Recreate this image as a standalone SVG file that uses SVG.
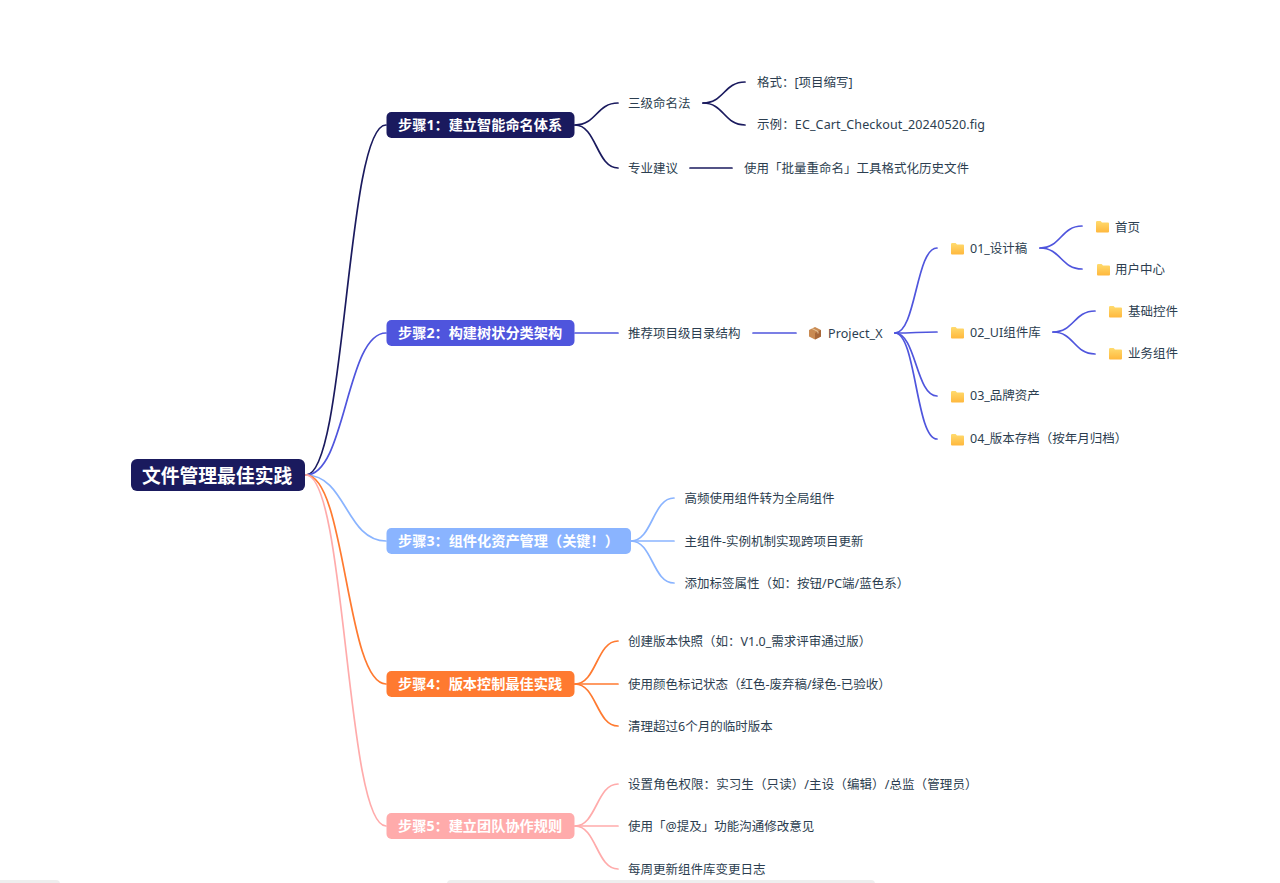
<svg xmlns="http://www.w3.org/2000/svg" width="1280" height="883" viewBox="0 0 1280 883">
<style>
text{font-family:"Noto Sans","Noto Sans CJK SC",sans-serif;white-space:pre}
.leaf{font-size:12.5px;fill:#2c3e50}
.step{font-size:14.2px;font-weight:700;fill:#fff}
.root{font-size:18.8px;font-weight:700;fill:#fff}
.c{fill:none;stroke-width:1.7;stroke-linecap:round}
.c1{stroke:#1a1a5e}.c2{stroke:#4f55dd}.c3{stroke:#8ab4ff}.c4{stroke:#ff7a30}.c5{stroke:#ffabab}
</style>
<defs>
<linearGradient id="fg" x1="0" y1="0" x2="0" y2="1"><stop offset="0" stop-color="#ffdb6e"/><stop offset="1" stop-color="#ffb83d"/></linearGradient>
<g id="folder"><path d="M0 1.2Q0 0 1.2 0H4.6L6 1.6H12Q13 1.6 13 2.6V10.4Q13 11.4 12 11.4H1Q0 11.4 0 10.4Z" fill="url(#fg)"/></g>
</defs>
<rect x="-5" y="880" width="65" height="8" rx="4" fill="#eeeeee"/>
<rect x="447" y="880" width="428" height="8" rx="4" fill="#eeeeee"/>
<g id="connectors">
<path class="c c1" d="M306 475C346 475 346 125 386 125"/>
<path class="c c2" d="M306 475C346 475 346 333 386 333"/>
<path class="c c3" d="M306 475C346 475 346 541 386 541"/>
<path class="c c4" d="M306 475C346 475 346 684 386 684"/>
<path class="c c5" d="M306 475C346 475 346 826 386 826"/>
<path class="c c1" d="M575 125C596.500 125 596.500 103 618 103"/>
<path class="c c1" d="M575 125C596.500 125 596.500 168 618 168"/>
<path class="c c1" d="M703 103C724 103 724 82 745 82"/>
<path class="c c1" d="M703 103C724 103 724 125 745 125"/>
<path class="c c1" d="M690 168H732"/>
<path class="c c2" d="M575 333H618"/>
<path class="c c2" d="M753 333H796"/>
<path class="c c2" d="M895 333C916 333 916 248 937 248"/>
<path class="c c2" d="M895 333C916 333 916 332 937 332"/>
<path class="c c2" d="M895 333C916 333 916 396 937 396"/>
<path class="c c2" d="M895 333C916 333 916 439 937 439"/>
<path class="c c2" d="M1040 248C1061 248 1061 226 1082 226"/>
<path class="c c2" d="M1040 248C1061 248 1061 269 1082 269"/>
<path class="c c2" d="M1053 332C1074 332 1074 311 1095 311"/>
<path class="c c2" d="M1053 332C1074 332 1074 354 1095 354"/>
<path class="c c3" d="M631 541C652.500 541 652.500 498 674 498"/>
<path class="c c3" d="M631 541H674"/>
<path class="c c3" d="M631 541C652.500 541 652.500 583 674 583"/>
<path class="c c4" d="M575 684C596.500 684 596.500 641 618 641"/>
<path class="c c4" d="M575 684H618"/>
<path class="c c4" d="M575 684C596.500 684 596.500 726 618 726"/>
<path class="c c5" d="M575 826C596.500 826 596.500 784 618 784"/>
<path class="c c5" d="M575 826H618"/>
<path class="c c5" d="M575 826C596.500 826 596.500 869 618 869"/>
</g>
<g id="root"><rect x="131" y="459" width="174" height="32" rx="6" fill="#1a1a5e"/><text class="root" x="142" y="483">文件管理最佳实践</text></g>
<g id="step1"><rect x="386.500" y="112" width="188" height="26" rx="5" fill="#1a1a5e"/><text class="step" x="398" y="130">步骤1&#xFF1A;建立智能命名体系</text></g>
<g id="step2"><rect x="386.500" y="320" width="188" height="26" rx="5" fill="#4f55dd"/><text class="step" x="398" y="338">步骤2&#xFF1A;构建树状分类架构</text></g>
<g id="step3"><rect x="386.500" y="528" width="244.500" height="26" rx="5" fill="#8ab4ff"/><text class="step" x="398" y="546">步骤3&#xFF1A;组件化资产管理&#xFF08;关键&#xFF01;&#xFF09;</text></g>
<g id="step4"><rect x="386.500" y="671" width="188" height="26" rx="5" fill="#ff7a30"/><text class="step" x="398" y="689">步骤4&#xFF1A;版本控制最佳实践</text></g>
<g id="step5"><rect x="386.500" y="813" width="188" height="26" rx="5" fill="#ffabab"/><text class="step" x="398" y="831">步骤5&#xFF1A;建立团队协作规则</text></g>
<g id="n1"><text class="leaf" x="628" y="108">三级命名法</text></g>
<g id="n2"><text class="leaf" x="757" y="87">格式&#xFF1A;[项目缩写]</text></g>
<g id="n3"><text class="leaf" x="757" y="129" textLength="228">示例&#xFF1A;EC_Cart_Checkout_20240520.fig</text></g>
<g id="n4"><text class="leaf" x="628" y="173">专业建议</text></g>
<g id="n5"><text class="leaf" x="744" y="173">使用「批量重命名」工具格式化历史文件</text></g>
<g id="n6"><text class="leaf" x="628" y="338">推荐项目级目录结构</text></g>
<g id="n7"><path d="M815 327L821 330V336.500L815 339.500L809 336.500V330Z" fill="#c98a52"/><path d="M815 333L821 330V336.500L815 339.500Z" fill="#a8683a"/><path d="M812 328.500L818 331.500V333.500" fill="none" stroke="#e8c9a0"/><text class="leaf" x="828" y="338" textLength="54.500">Project_X</text></g>
<g id="n8"><use href="#folder" x="951" y="243"/><text class="leaf" x="970" y="253">01_设计稿</text></g>
<g id="n9"><use href="#folder" x="1096" y="221"/><text class="leaf" x="1115" y="232">首页</text></g>
<g id="n10"><use href="#folder" x="1097" y="264"/><text class="leaf" x="1115" y="274">用户中心</text></g>
<g id="n11"><use href="#folder" x="951" y="327"/><text class="leaf" x="970" y="337">02_UI组件库</text></g>
<g id="n12"><use href="#folder" x="1109" y="306"/><text class="leaf" x="1128" y="316">基础控件</text></g>
<g id="n13"><use href="#folder" x="1109" y="348"/><text class="leaf" x="1128" y="358">业务组件</text></g>
<g id="n14"><use href="#folder" x="951" y="391"/><text class="leaf" x="970" y="400">03_品牌资产</text></g>
<g id="n15"><use href="#folder" x="951" y="434"/><text class="leaf" x="970" y="443">04_版本存档&#xFF08;按年月归档&#xFF09;</text></g>
<g id="n16"><text class="leaf" x="684.500" y="503">高频使用组件转为全局组件</text></g>
<g id="n17"><text class="leaf" x="684.500" y="546">主组件-实例机制实现跨项目更新</text></g>
<g id="n18"><text class="leaf" x="684.500" y="588">添加标签属性&#xFF08;如&#xFF1A;按钮/PC端/蓝色系&#xFF09;</text></g>
<g id="n19"><text class="leaf" x="628" y="646">创建版本快照&#xFF08;如&#xFF1A;V1.0_需求评审通过版&#xFF09;</text></g>
<g id="n20"><text class="leaf" x="628" y="689">使用颜色标记状态&#xFF08;红色-废弃稿/绿色-已验收&#xFF09;</text></g>
<g id="n21"><text class="leaf" x="628" y="731">清理超过6个月的临时版本</text></g>
<g id="n22"><text class="leaf" x="628" y="789" textLength="349.500">设置角色权限&#xFF1A;实习生&#xFF08;只读&#xFF09;/主设&#xFF08;编辑&#xFF09;/总监&#xFF08;管理员&#xFF09;</text></g>
<g id="n23"><text class="leaf" x="628" y="831">使用「@提及」功能沟通修改意见</text></g>
<g id="n24"><text class="leaf" x="628" y="874">每周更新组件库变更日志</text></g>
</svg>
